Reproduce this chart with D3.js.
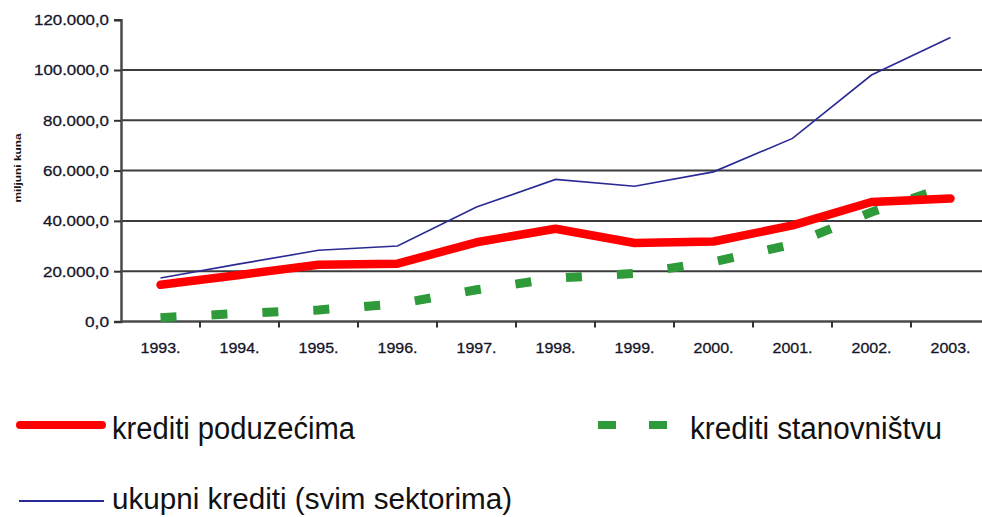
<!DOCTYPE html>
<html>
<head>
<meta charset="utf-8">
<script src="https://cdn.jsdelivr.net/npm/d3@7"></script>
<style>
  body { margin: 0; background: #fff; }
  svg { display: block; font-family: "Liberation Sans", Arial, sans-serif; }
</style>
</head>
<body>
<svg id="chart" width="982" height="517"></svg>
<script>
// years on the x axis
const years = ["1993.", "1994.", "1995.", "1996.", "1997.", "1998.", "1999.", "2000.", "2001.", "2002.", "2003."];
// milijuni kuna
const kreditiPoduzecima = [14600, 18500, 22600, 23000, 31500, 36900, 31200, 31800, 38200, 47500, 48900];
const kreditiStanovnistvu = [1500, 3200, 4600, 7000, 12600, 17200, 19100, 23700, 30700, 43500, 54000];
const ukupniKrediti = [17300, 22900, 28300, 30000, 45500, 56500, 53800, 59500, 72800, 98000, 112900];
const yTicks = [0, 20000, 40000, 60000, 80000, 100000, 120000];

const svg = d3.select("#chart");

const x = d3.scaleBand().domain(years).range([121, 990]);
const y = d3.scaleLinear().domain([0, 120000]).range([321.5, 19.7]);

const fmt = v => d3.format(",.1f")(v).replace(/,/g, "#").replace(".", ",").replace(/#/g, ".");

// horizontal grid (none at the top value)
svg.append("g")
  .selectAll("line")
  .data(yTicks.filter(d => d > 0 && d < 120000))
  .join("line")
  .attr("x1", 121).attr("x2", 990)
  .attr("y1", d => y(d)).attr("y2", d => y(d))
  .attr("stroke", "#3c3c3c")
  .attr("stroke-width", 2);

// y axis
const yAxis = svg.append("g")
  .attr("transform", "translate(121,0)")
  .call(d3.axisLeft(y).tickValues(yTicks).tickFormat(fmt).tickSize(7).tickPadding(5));
yAxis.select(".domain").attr("stroke", "#4a4a4a").attr("stroke-width", 2.5);
yAxis.selectAll(".tick line").attr("stroke", "#333").attr("stroke-width", 2);
yAxis.selectAll(".tick text")
  .attr("font-size", 15)
  .attr("fill", "#15152a")
  .attr("stroke", "#15152a")
  .attr("stroke-width", 0.3)
  .attr("lengthAdjust", "spacingAndGlyphs")
  .each(function(d) {
    const t = fmt(d);
    d3.select(this).attr("textLength", t.length === 9 ? 75 : t.length === 8 ? 66 : 24);
  });

// x axis with ticks between categories
const xAxis = svg.append("g").attr("transform", `translate(0,${y(0)})`);
xAxis.append("line")
  .attr("x1", 121).attr("x2", 990)
  .attr("stroke", "#4a4a4a").attr("stroke-width", 2.5);
xAxis.selectAll(".sep")
  .data(years.slice(1))
  .join("line")
  .attr("class", "sep")
  .attr("x1", d => x(d)).attr("x2", d => x(d))
  .attr("y1", 0).attr("y2", 6)
  .attr("stroke", "#333").attr("stroke-width", 2);
xAxis.selectAll(".lbl")
  .data(years)
  .join("text")
  .attr("class", "lbl")
  .attr("x", d => x(d) + x.bandwidth() / 2)
  .attr("y", 31.5)
  .attr("text-anchor", "middle")
  .attr("font-size", 15)
  .attr("fill", "#15152a")
  .attr("stroke", "#15152a")
  .attr("stroke-width", 0.3)
  .attr("textLength", 40)
  .attr("lengthAdjust", "spacingAndGlyphs")
  .text(d => d);

// y axis title
svg.append("text")
  .attr("transform", "translate(21,168) rotate(-90)")
  .attr("text-anchor", "middle")
  .attr("font-size", 9)
  .attr("font-weight", "bold")
  .attr("fill", "#111")
  .attr("textLength", 69)
  .attr("lengthAdjust", "spacingAndGlyphs")
  .text("miljuni kuna");

const cx = d => x(d) + x.bandwidth() / 2;
const line = d3.line().x((d, i) => cx(years[i])).y(d => y(d));

svg.append("path")
  .datum(kreditiStanovnistvu)
  .attr("d", line)
  .attr("fill", "none")
  .attr("stroke", "#2e9a3a")
  .attr("stroke-width", 9)
  .attr("stroke-dasharray", "16,35");

svg.append("path")
  .datum(kreditiPoduzecima)
  .attr("d", line)
  .attr("fill", "none")
  .attr("stroke", "#ff0000")
  .attr("stroke-width", 8.5)
  .attr("stroke-linejoin", "round")
  .attr("stroke-linecap", "round");

svg.append("path")
  .datum(ukupniKrediti)
  .attr("d", line)
  .attr("fill", "none")
  .attr("stroke", "#2a2a96")
  .attr("stroke-width", 1.6);

// legend
const legend = svg.append("g");
legend.append("line")
  .attr("x1", 20).attr("x2", 102).attr("y1", 425).attr("y2", 425)
  .attr("stroke", "#ff0000").attr("stroke-width", 8).attr("stroke-linecap", "round");
legend.append("text")
  .attr("x", 112).attr("y", 439)
  .attr("font-size", 31).attr("fill", "#111")
  .attr("textLength", 243).attr("lengthAdjust", "spacingAndGlyphs")
  .text("krediti poduzećima");

legend.append("line")
  .attr("x1", 598).attr("x2", 667).attr("y1", 425).attr("y2", 425)
  .attr("stroke", "#2e9a3a").attr("stroke-width", 8).attr("stroke-dasharray", "18,33");
legend.append("text")
  .attr("x", 690).attr("y", 439)
  .attr("font-size", 31).attr("fill", "#111")
  .attr("textLength", 252).attr("lengthAdjust", "spacingAndGlyphs")
  .text("krediti stanovništvu");

legend.append("line")
  .attr("x1", 19).attr("x2", 104).attr("y1", 501).attr("y2", 501)
  .attr("stroke", "#2a2a96").attr("stroke-width", 1.8);
legend.append("text")
  .attr("x", 112).attr("y", 509)
  .attr("font-size", 30).attr("fill", "#111")
  .attr("textLength", 400).attr("lengthAdjust", "spacingAndGlyphs")
  .text("ukupni krediti (svim sektorima)");
</script>
</body>
</html>
